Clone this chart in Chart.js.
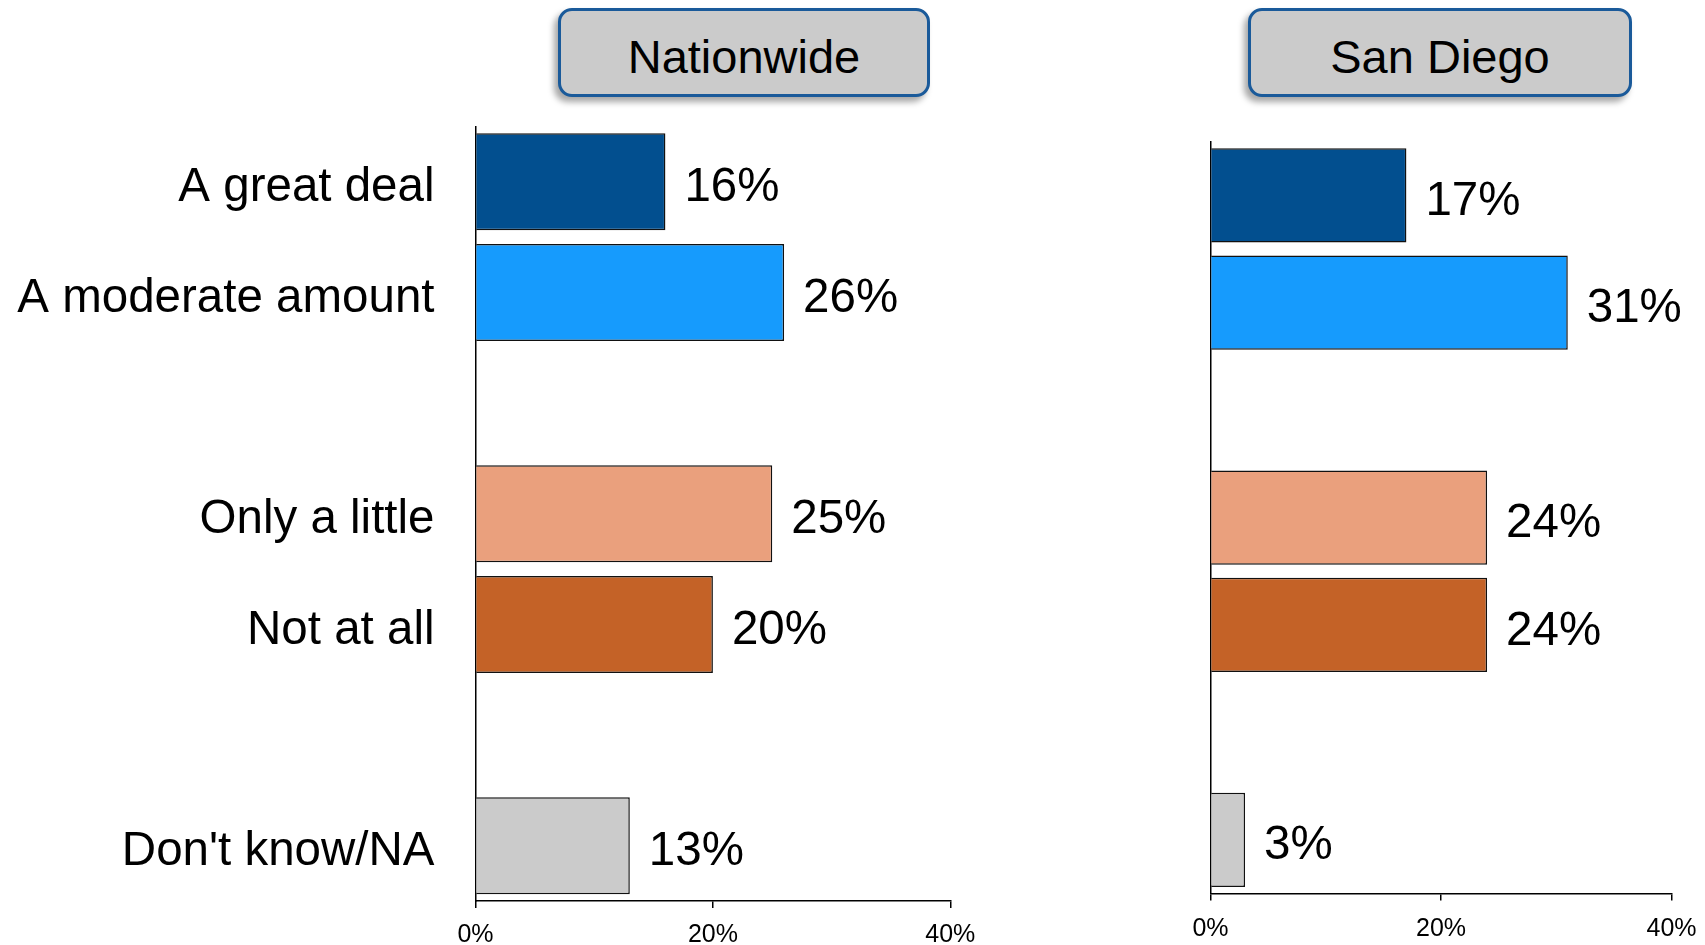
<!DOCTYPE html>
<html>
<head>
<meta charset="utf-8">
<script src="https://cdn.jsdelivr.net/npm/chart.js@4.4.1/dist/chart.umd.min.js"></script>
<style>
    html, body { margin: 0; padding: 0; background: #fff; }
    .page { position: relative; width: 1705px; height: 945px; overflow: hidden; font-family: "Liberation Sans", Arial, sans-serif; }
    .page canvas { position: absolute; top: 0; }
    #natChart { left: 0; }
    #sdChart { left: 1000px; }
    .tag {
        position: absolute; top: 8px; height: 89px; box-sizing: border-box;
        background: #cbcbcb; border: 3px solid #1a5a9a; border-radius: 14px;
        box-shadow: -4px 5px 6px rgba(0, 0, 0, 0.35);
        display: flex; align-items: center; justify-content: center;
        padding-top: 8px; font-size: 47px; line-height: 1; color: #000;
    }
</style>
</head>
<body>
<div class="page">
    <div class="tag" style="left: 558px; width: 372px;">Nationwide</div>
    <div class="tag" style="left: 1248px; width: 384px;">San Diego</div>
    <canvas id="natChart" width="1000" height="945"></canvas>
    <canvas id="sdChart" width="720" height="945"></canvas>
</div>
<script>
const categories = ["A great deal", "A moderate amount", "", "Only a little", "Not at all", "", "Don't know/NA"];
const nationwide = [16, 26, null, 25, 20, null, 13];
const sanDiego = [17, 31, null, 24, 24, null, 3];
const barColors = ["#024f8f", "#169bfd", "#ffffff", "#eaa07d", "#c46227", "#ffffff", "#cbcbcb"];
const xMin = 0;
const xMax = 40;
const xStep = 20;

const FONT = '"Liberation Sans", Arial, sans-serif';

const valueLabels = {
    id: "valueLabels",
    afterDatasetsDraw(chart) {
        const ctx = chart.ctx;
        const ds = chart.data.datasets[0];
        const meta = chart.getDatasetMeta(0);
        ctx.save();
        ctx.font = "47.5px " + FONT;
        ctx.fillStyle = "#000";
        ctx.textAlign = "left";
        ctx.textBaseline = "middle";
        meta.data.forEach((bar, i) => {
            const v = ds.data[i];
            if (v === null) return;
            ctx.fillText(v + "%", bar.x + 19, bar.y + 6.5);
        });
        ctx.restore();
    }
};

function makeChart(id, values, opts) {
    const ctx = document.getElementById(id).getContext("2d");
    return new Chart(ctx, {
        type: "bar",
        data: {
            labels: categories,
            datasets: [{
                data: values,
                backgroundColor: barColors,
                borderColor: "#111",
                borderWidth: 1.5,
                barPercentage: 0.877,
                categoryPercentage: 1,
            }]
        },
        options: {
            indexAxis: "y",
            responsive: false,
            animation: false,
            layout: { padding: { top: opts.top, right: opts.right, left: 0, bottom: 0 } },
            plugins: {
                legend: { display: false },
                tooltip: { enabled: false },
            },
            scales: {
                x: {
                    min: xMin,
                    max: xMax,
                    afterFit: (scale) => { scale.height = opts.xHeight; },
                    grid: {
                        drawOnChartArea: false,
                        drawTicks: true,
                        tickLength: 7,
                        color: "#000",
                        lineWidth: 1.5,
                    },
                    border: { color: "#000", width: 1.5 },
                    ticks: {
                        stepSize: xStep,
                        padding: opts.tickPad,
                        color: "#000",
                        maxRotation: 0,
                        font: { size: 25, family: FONT },
                        callback: (v) => v + "%",
                    },
                },
                y: {
                    afterFit: (scale) => {
                        scale.width = opts.yWidth;
                        scale.paddingTop = 0;
                        scale.paddingBottom = 0;
                    },
                    grid: { display: false, drawTicks: false },
                    border: { display: true, color: "#000", width: 1.5 },
                    ticks: {
                        display: opts.showLabels,
                        padding: 41,
                        labelOffset: 6.5,
                        color: "#000",
                        font: { size: 47.5, family: FONT },
                    },
                },
            },
        },
        plugins: [valueLabels],
    });
}

makeChart("natChart", nationwide, { top: 126.5, right: 49.7, xHeight: 44, tickPad: 12, yWidth: 475.5, showLabels: true });
makeChart("sdChart", sanDiego, { top: 141.6, right: 48.5, xHeight: 51.5, tickPad: 14, yWidth: 210.5, showLabels: false });
</script>
</body>
</html>
